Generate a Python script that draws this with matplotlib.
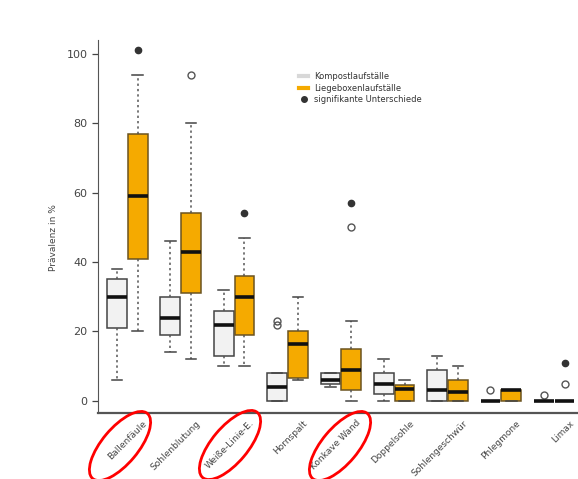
import matplotlib.pyplot as plt
from matplotlib.lines import Line2D
from matplotlib.patches import Ellipse
from matplotlib.transforms import ScaledTranslation

categories = ['Ballenfäule', 'Sohlenblutung', 'Weiße-Linie-E.', 'Hornspalt', 'Konkave Wand',
              'Doppelsohle', 'Sohlengeschwür', 'Phlegmone', 'Limax']

# whisker low, q1, median, q3, whisker high
kompost = [[6, 21, 30, 35, 38], [14, 19, 24, 30, 46], [10, 13, 22, 26, 32],
           [0, 0, 4, 8, 8], [4, 5, 6, 8, 8], [0, 2, 5, 8, 12],
           [0, 0, 3, 9, 13], [0, 0, 0, 0, 0], [0, 0, 0, 0, 0]]
liege = [[20, 41, 59, 77, 94], [12, 31, 43, 54, 80], [10, 19, 30, 36, 47],
         [6, 6.5, 16.5, 20, 30], [0, 3, 9, 15, 23], [0, 0, 3.4, 4.6, 6],
         [0, 0, 2.5, 6, 10], [0, 0, 3, 3, 3], [0, 0, 0, 0, 0]]
kompost_out = [[], [], [], [22, 23], [], [], [], [3], [1.7]]
liege_out = [[], [94], [], [], [50], [], [], [], [4.8]]

sig_idx = [0, 2, 4, 8]
sig_val = [101, 54, 57, 11]

orange = '#f5aa00'
grey_fill = '#f2f2f2'


def make_stats(rows, outs):
    res = []
    for r, o in zip(rows, outs):
        res.append(dict(whislo=r[0], q1=r[1], med=r[2], q3=r[3], whishi=r[4], fliers=o))
    return res


fig = plt.figure(figsize=(5.78, 4.79), dpi=100)
ax = fig.add_axes([0.1696, 0.1378, 0.84, 0.7787])

off = 0.195
pos = list(range(1, len(categories) + 1))
common = dict(widths=0.37, patch_artist=True, showfliers=True, manage_ticks=False,
              capwidths=0.2)

for stats, p, fc, ec in [(make_stats(kompost, kompost_out), [x - off for x in pos], grey_fill, '#444444'),
                         (make_stats(liege, liege_out), [x + off for x in pos], orange, '#6b5320')]:
    ax.bxp(stats, positions=p,
           boxprops=dict(facecolor=fc, edgecolor=ec, linewidth=1.1),
           medianprops=dict(color='#111111', linewidth=2.6),
           whiskerprops=dict(color='#555555', linewidth=1.1, linestyle=(0, (1.5, 2))),
           capprops=dict(color='#444444', linewidth=1.1),
           flierprops=dict(marker='o', markerfacecolor='none', markeredgecolor='#555555',
                           markersize=5, markeredgewidth=1),
           **common)

ax.plot([pos[i] + off for i in sig_idx], sig_val, 'o', color='#333333', ms=4.5, zorder=5)

ax.set_xlim(0.45, 9.55)
ax.set_ylim(-3.5, 104)
ax.set_yticks([0, 20, 40, 60, 80, 100])
ax.tick_params(axis='y', labelsize=8, colors='#444444', length=4, width=0.9)
ax.set_xticks(pos)
ax.set_xticklabels(categories, rotation=45, ha='right', rotation_mode='anchor',
                   fontsize=6.5, color='#444444')
ax.tick_params(axis='x', length=0, pad=4)
shift = ScaledTranslation(0.15, 0.0, fig.dpi_scale_trans)
for lab in ax.get_xticklabels():
    lab.set_transform(lab.get_transform() + shift)
ax.set_ylabel('Prävalenz in %', fontsize=6.5, color='#444444')
ax.yaxis.set_label_coords(-0.082, 0.47)
for s in ['top', 'right']:
    ax.spines[s].set_visible(False)
ax.spines['left'].set_color('#555555')
ax.spines['bottom'].set_color('#555555')
ax.spines['bottom'].set_linewidth(1.6)

handles = [Line2D([], [], color='#d8d8d8', lw=3),
           Line2D([], [], color=orange, lw=3),
           Line2D([], [], color='#333333', marker='o', ms=4, lw=0)]
fig.legend(handles, ['Kompostlaufställe', 'Liegeboxenlaufställe', 'signifikante Unterschiede'],
           loc='upper left', bbox_to_anchor=(0.505, 0.865), frameon=False, fontsize=6,
           handlelength=1.0, labelspacing=0.3, labelcolor='#333333')

# red hand-drawn circles around some labels
for cx, cy in [(120, 446), (230, 445), (340, 446)]:
    fig.patches.append(Ellipse((cx / 100, (479 - cy) / 100), 0.85, 0.36, angle=50,
                               transform=fig.dpi_scale_trans, fill=False,
                               edgecolor='red', linewidth=2))

fig.savefig('out.png', dpi=100)
